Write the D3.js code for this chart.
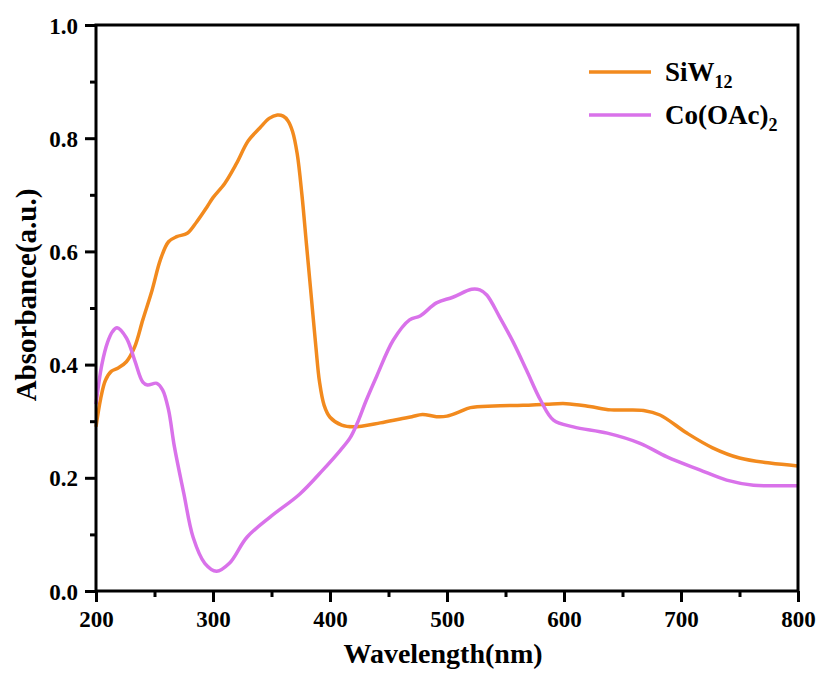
<!DOCTYPE html>
<html>
<head>
<meta charset="utf-8">
<script src="https://cdn.jsdelivr.net/npm/d3@7"></script>
<style>
  body { margin: 0; background: #fff; }
</style>
</head>
<body>
<div id="chart"></div>
<script>
const width = 821, height = 673;
const margin = {top: 25, right: 23, bottom: 82, left: 96};
const innerWidth = width - margin.left - margin.right;
const innerHeight = height - margin.top - margin.bottom;
const FONT = 'Liberation Serif, Tinos, Times New Roman, DejaVu Serif, serif';

// SiW12 spectrum (wavelength nm, absorbance)
const siwWl  = [200, 204, 208, 213, 219, 226, 233, 240, 248, 255, 262, 269, 278, 286, 295, 300, 310, 320, 330, 340, 348, 355, 360, 364, 368, 372, 376, 380, 384, 388, 391, 395, 400, 410, 420, 443, 460, 470, 479, 491, 500, 510, 520, 540, 565, 585, 602, 622, 640, 668, 682, 705, 727, 750, 776, 800];
const siwAbs = [0.29, 0.34, 0.372, 0.388, 0.394, 0.405, 0.431, 0.479, 0.532, 0.585, 0.617, 0.626, 0.632, 0.652, 0.679, 0.695, 0.72, 0.755, 0.795, 0.818, 0.835, 0.841, 0.839, 0.831, 0.812, 0.772, 0.70, 0.61, 0.52, 0.43, 0.37, 0.328, 0.307, 0.293, 0.29, 0.297, 0.304, 0.308, 0.312, 0.308, 0.309, 0.316, 0.324, 0.327, 0.328, 0.33, 0.331, 0.326, 0.32, 0.319, 0.311, 0.279, 0.253, 0.235, 0.226, 0.221];

// Co(OAc)2 spectrum
const coWl  = [200, 205, 210, 214, 218, 226, 233, 240, 244, 252, 257, 262, 267, 275, 283, 293, 303, 314, 329, 349, 374, 394, 409, 417, 423, 431, 440, 454, 468, 477, 491, 505, 521, 528, 534, 545, 557, 568, 580, 591, 608, 637, 665, 688, 716, 739, 762, 780, 800];
const coAbs = [0.33, 0.40, 0.44, 0.458, 0.465, 0.447, 0.408, 0.369, 0.364, 0.367, 0.355, 0.32, 0.255, 0.173, 0.095, 0.049, 0.035, 0.049, 0.095, 0.131, 0.171, 0.214, 0.249, 0.27, 0.295, 0.337, 0.38, 0.443, 0.479, 0.486, 0.509, 0.519, 0.533, 0.532, 0.523, 0.484, 0.438, 0.39, 0.337, 0.302, 0.29, 0.279, 0.261, 0.237, 0.214, 0.196, 0.187, 0.186, 0.186];

const colors = ['#F28A1E', '#D972EA'];
const xTicks = [200, 300, 400, 500, 600, 700, 800];
const yTicks = [0.0, 0.2, 0.4, 0.6, 0.8, 1.0];
const xMinor = [250, 350, 450, 550, 650, 750];
const yMinor = [0.1, 0.3, 0.5, 0.7, 0.9];

const svg = d3.select('#chart').append('svg')
  .attr('width', width).attr('height', height)
  .attr('font-family', FONT).attr('font-weight', 700);

const g = svg.append('g')
  .attr('transform', `translate(${margin.left},${margin.top})`);

const x = d3.scaleLinear().domain([200, 800]).range([0, innerWidth]);
const y = d3.scaleLinear().domain([0, 1]).range([innerHeight, 0]);

const series = [
  siwWl.map((w, i) => [w, siwAbs[i]]),
  coWl.map((w, i) => [w, coAbs[i]])
];

const line = d3.line()
  .x(d => x(d[0])).y(d => y(d[1]))
  .curve(d3.curveCatmullRom.alpha(0.5));

g.selectAll('path.spec')
  .data(series).join('path')
  .attr('class', 'spec')
  .attr('d', d => line(d))
  .attr('fill', 'none')
  .attr('stroke', (d, i) => colors[i])
  .attr('stroke-width', 3.5)
  .attr('stroke-linejoin', 'round');

/* Axes */
const styleAxis = ax => {
  ax.attr('font-family', FONT).attr('font-weight', 700);
  ax.select('.domain').remove();
  ax.selectAll('.tick line').attr('stroke', '#000').attr('stroke-width', 3);
  ax.selectAll('text').attr('fill', '#000');
};

// minor ticks (no labels)
g.append('g')
  .attr('transform', `translate(0,${innerHeight})`)
  .call(d3.axisBottom(x).tickValues(xMinor).tickSize(6))
  .call(styleAxis)
  .call(ax => ax.selectAll('text').remove());
g.append('g')
  .call(d3.axisLeft(y).tickValues(yMinor).tickSize(6))
  .call(styleAxis)
  .call(ax => ax.selectAll('text').remove());

g.append('g')
  .attr('transform', `translate(0,${innerHeight})`)
  .call(d3.axisBottom(x).tickValues(xTicks).tickSize(11))
  .call(styleAxis)
  .attr('font-size', 23)
  .call(ax => ax.selectAll('text').attr('y', 36).attr('dy', null));

g.append('g')
  .call(d3.axisLeft(y).tickValues(yTicks).tickSize(11).tickPadding(7).tickFormat(d3.format('.1f')))
  .call(styleAxis)
  .attr('font-size', 23)
  .call(ax => ax.selectAll('text').attr('dy', 8));

// frame
g.append('rect')
  .attr('width', innerWidth).attr('height', innerHeight)
  .attr('fill', 'none').attr('stroke', '#000').attr('stroke-width', 3);

/* Axis titles */
g.append('text')
  .attr('x', innerWidth / 2 - 4).attr('y', innerHeight + 72)
  .attr('text-anchor', 'middle').attr('font-size', 28)
  .text('Wavelength(nm)');

g.append('text')
  .attr('transform', 'rotate(-90)')
  .attr('x', -innerHeight / 2 + 13).attr('y', -60)
  .attr('text-anchor', 'middle').attr('font-size', 29)
  .text('Absorbance(a.u.)');

/* Legend */
const leg = g.append('g')
  .attr('transform', `translate(${x(200) + 493}, 47)`);
const legLabels = [['SiW', '12'], ['Co(OAc)', '2']];
legLabels.forEach((lab, i) => {
  const r = leg.append('g').attr('transform', `translate(0,${i * 43})`);
  r.append('line').attr('x1', 0).attr('x2', 62).attr('y1', 0).attr('y2', 0)
    .attr('stroke', colors[i]).attr('stroke-width', 3.5);
  const t = r.append('text').attr('x', 76).attr('y', 9).attr('font-size', 27).attr('fill', '#000');
  t.append('tspan').text(lab[0]);
  t.append('tspan').attr('dy', 7).attr('font-size', 18).text(lab[1]);
});
</script>
</body>
</html>
